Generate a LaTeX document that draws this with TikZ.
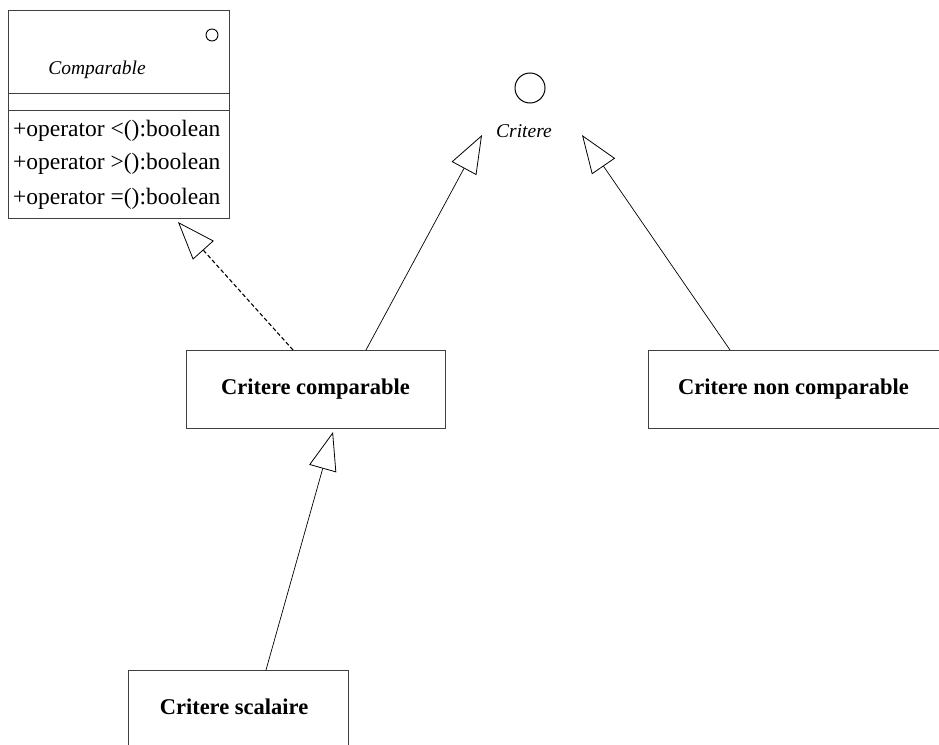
\documentclass[tikz,border=0pt]{standalone}
\usepackage{fontspec}
\setmainfont{Liberation Serif}
\usetikzlibrary{arrows.meta}
\begin{document}
\begin{tikzpicture}[x=1pt,y=-1pt,
  box/.style={draw=black!75, line width=0.9pt},
  conn/.style={line width=0.7pt, -{Triangle[open, length=38pt, width=28pt, line width=0.8pt]}},
  lbl/.style={font=\fontsize{22.5}{26}\selectfont\bfseries, inner sep=0pt},
  op/.style={font=\fontsize{23.5}{26}\selectfont, inner sep=0pt, anchor=west},
  ital/.style={font=\fontsize{19.5}{22}\selectfont\itshape, inner sep=0pt}]
\useasboundingbox (0,0) rectangle (939,744);
% Comparable interface class
\draw[box] (8,10) rectangle (229,218);
\draw[box] (8,93) -- (229,93);
\draw[box] (8,110) -- (229,110);
\draw[line width=0.9pt] (212,35) circle (6);
\node[ital] (cmp) at (97,70) {Comparable};
\node[op] (op1) at (13,131) {+operator <():boolean};
\node[op] (op2) at (13,164) {+operator >():boolean};
\node[op] (op3) at (13,199) {+operator =():boolean};
% Critere interface
\draw[line width=1pt] (530,88) circle (15);
\node[ital] (crit) at (524,131) {Critere};
% class boxes
\node[box, minimum width=259pt, minimum height=78pt, lbl] (cc) at (315.5,389) {Critere comparable};
\node[box, minimum width=291pt, minimum height=78pt, lbl] (cnc) at (793.5,389) {Critere non comparable};
\node[box, minimum width=220pt, minimum height=78pt, anchor=north] (cs) at (238,670) {};
\node[lbl] (cst) at (234,707) {Critere scalaire};
% arrow tips
\coordinate (t1) at (178,222);
\coordinate (t2) at (482,135);
\coordinate (t3) at (582,135);
\coordinate (t4) at (333,432);
\coordinate (s1) at (293,350);
\coordinate (s2) at (366,350);
\coordinate (s3) at (730,350);
\coordinate (s4) at (266,670);
\draw[conn, dashed, dash pattern=on 4pt off 2.5pt, line width=1.1pt] (s1) -- (t1);
\draw[conn] (s2) -- (t2);
\draw[conn] (s3) -- (t3);
\draw[conn] (s4) -- (t4);
\end{tikzpicture}
\end{document}
